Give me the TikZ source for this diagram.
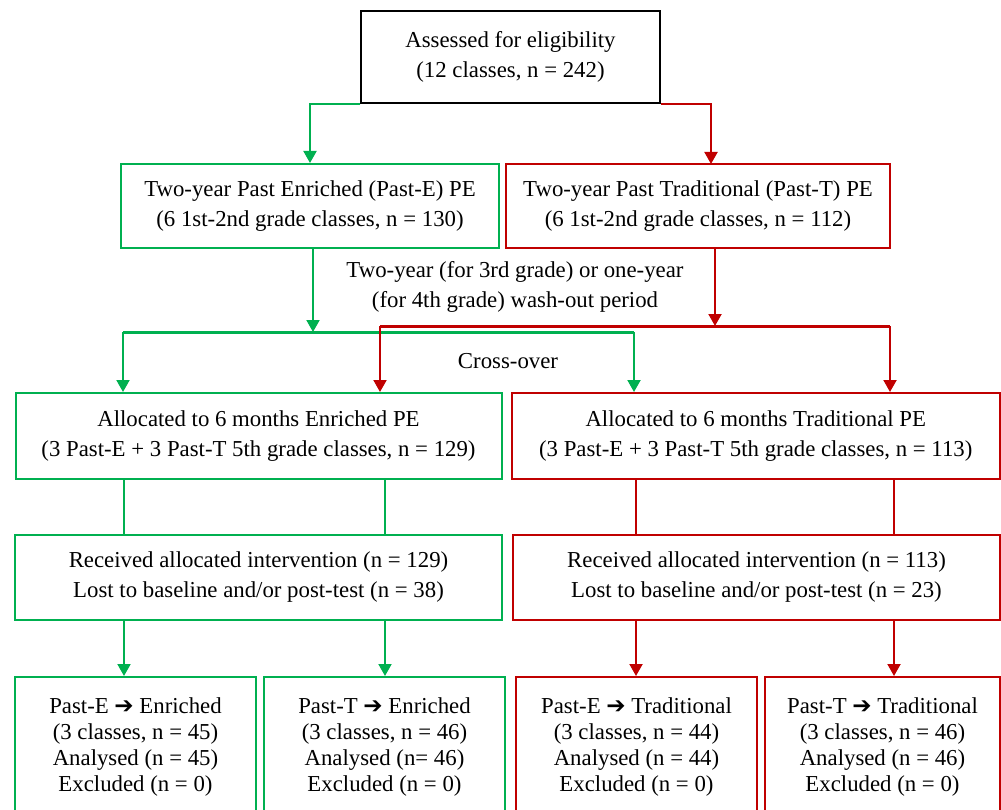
\documentclass[tikz,border=0pt]{standalone}
\usepackage{fontspec}
\setmainfont{Liberation Serif}
\newfontfamily\arrowfont{DejaVu Sans}
\usetikzlibrary{arrows.meta,calc}
\definecolor{cgreen}{RGB}{0,176,80}
\definecolor{cred}{RGB}{192,0,0}
\newcommand\harr{{\arrowfont\fontsize{23}{26}\selectfont\symbol{"2794}}}
\begin{document}
\begin{tikzpicture}[x=1pt,y=-1pt, line width=2pt,
  txt/.style={inner sep=0pt, align=center, font=\fontsize{22.8}{30}\selectfont},
  box/.style={txt, draw},
  gbox/.style={box, draw=cgreen},
  rbox/.style={box, draw=cred},
  fbox/.style={draw, inner sep=0pt, align=center, font=\fontsize{22.8}{26}\selectfont, minimum width=241pt, minimum height=141pt},
  garr/.style={cgreen, -{Triangle[width=13pt,length=12pt]}},
  rarr/.style={cred, -{Triangle[width=13pt,length=12pt]}},
  bar/.style={line width=3pt}
]
\useasboundingbox (0,0) rectangle (1001,810);
\node[box, draw=black, line width=1.5pt, minimum width=299pt, minimum height=92pt] (top) at (510.5,57) {Assessed for eligibility\\(12 classes, n = 242)};
\node[gbox, minimum width=378pt, minimum height=84pt] (pe) at (310,206) {Two-year Past Enriched (Past-E) PE\\(6 1st-2nd grade classes, n = 130)};
\node[rbox, minimum width=384pt, minimum height=84pt] (pt) at (698,206) {Two-year Past Traditional (Past-T) PE\\(6 1st-2nd grade classes, n = 112)};
\node[txt] (wash) at (515,287) {Two-year (for 3rd grade) or one-year\\(for 4th grade) wash-out period};
\node[txt] (cross) at (508,361) {Cross-over};
\node[gbox, minimum width=486pt, minimum height=86pt] (ae) at (258.5,436) {Allocated to 6 months Enriched PE\\(3 Past-E + 3 Past-T 5th grade classes, n = 129)};
\node[rbox, minimum width=488.5pt, minimum height=86pt] (at) at (755.75,436) {Allocated to 6 months Traditional PE\\(3 Past-E + 3 Past-T 5th grade classes, n = 113)};
\node[gbox, minimum width=487pt, minimum height=85pt] (re) at (258.5,577.5) {Received allocated intervention (n = 129)\\Lost to baseline and/or post-test (n = 38)};
\node[rbox, minimum width=487pt, minimum height=85pt] (rt) at (756.5,577.5) {Received allocated intervention (n = 113)\\Lost to baseline and/or post-test (n = 23)};
\node[fbox, draw=cgreen] (ee) at (135.5,747.5) {Past-E \harr{} Enriched\\(3 classes, n = 45)\\Analysed (n = 45)\\Excluded (n = 0)};
\node[fbox, draw=cgreen] (te) at (384.5,747.5) {Past-T \harr{} Enriched\\(3 classes, n = 46)\\Analysed (n= 46)\\Excluded (n = 0)};
\node[fbox, draw=cred] (et) at (636.5,747.5) {Past-E \harr{} Traditional\\(3 classes, n = 44)\\Analysed (n = 44)\\Excluded (n = 0)};
\node[fbox, draw=cred, minimum width=235pt] (tt) at (882.5,747.5) {Past-T \harr{} Traditional\\(3 classes, n = 46)\\Analysed (n = 46)\\Excluded (n = 0)};
% top to first row
\coordinate (ptIn) at (711,164);
\draw[garr] (top.south west) -| (pe.north);
\draw[rarr] (top.south east) -| (ptIn);
% wash-out
\coordinate (gJ) at (313,332);
\coordinate (gL) at (123,332);
\coordinate (gR) at (634,332);
\coordinate (rJ) at (715,326);
\coordinate (rL) at (380,326);
\coordinate (rR) at (890,326);
\draw[garr] (pe.south -| gJ) -- (gJ);
\draw[cgreen, bar] (gL) -- (gR);
\draw[garr] (gL) -- (gL |- ae.north);
\draw[garr] (gR) -- (gR |- at.north);
\draw[rarr] (pt.south -| rJ) -- (rJ);
\draw[cred, bar] (rL) -- (rR);
\draw[rarr] (rL) -- (rL |- ae.north);
\draw[rarr] (rR) -- (rR |- at.north);
% columns
\coordinate (cA) at (124,0);
\coordinate (cB) at (385,0);
\coordinate (cC) at (636,0);
\coordinate (cD) at (894,0);
\draw[cgreen] (ae.south -| cA) -- (re.north -| cA);
\draw[cgreen] (ae.south -| cB) -- (re.north -| cB);
\draw[cred] (at.south -| cC) -- (rt.north -| cC);
\draw[cred] (at.south -| cD) -- (rt.north -| cD);
\draw[garr] (re.south -| cA) -- (ee.north -| cA);
\draw[garr] (re.south -| cB) -- (te.north -| cB);
\draw[rarr] (rt.south -| cC) -- (et.north -| cC);
\draw[rarr] (rt.south -| cD) -- (tt.north -| cD);
\end{tikzpicture}
\end{document}
